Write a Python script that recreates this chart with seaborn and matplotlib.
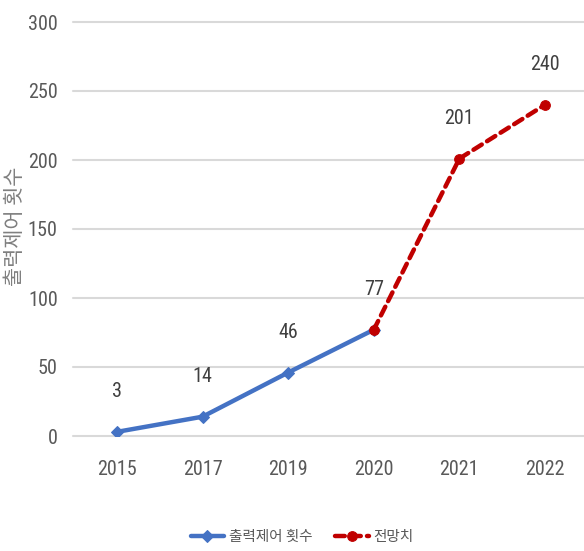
import matplotlib
matplotlib.use("Agg")
import matplotlib.pyplot as plt
import matplotlib.font_manager as fm
import seaborn as sns
import pandas as pd

years = ["2015", "2017", "2019", "2020", "2021", "2022"]
actual_years = ["2015", "2017", "2019", "2020"]
actual_values = [3, 14, 46, 77]
forecast_years = ["2020", "2021", "2022"]
forecast_values = [77, 201, 240]
y_ticks = [0, 50, 100, 150, 200, 250, 300]
series_names = ["출력제어 횟수", "전망치"]
y_label = "출력제어 횟수"

sns.set_theme(style="white")

# pick a narrow face for the numbers when one is installed
fonts = fm.fontManager.ttflist
num_font, num_stretch, num_size = "Liberation Sans", "normal", 13
for fam in ["Roboto Condensed", "Liberation Sans Narrow", "Open Sans Condensed"]:
    if any(f.name == fam for f in fonts):
        num_font, num_stretch, num_size = fam, "normal", 14.5
        break
else:
    if any(f.name == "DejaVu Sans" and str(f.stretch) == "condensed" for f in fonts):
        num_font, num_stretch, num_size = "DejaVu Sans", "condensed", 14
plt.rcParams["font.family"] = [num_font, "Noto Sans CJK KR", "DejaVu Sans"]
plt.rcParams["font.stretch"] = num_stretch
kr = ["Noto Sans CJK KR", "DejaVu Sans"]

blue = "#4472C4"
red = "#C00000"
text_col = "#595959"

fig = plt.figure(figsize=(5.84, 5.51), dpi=100)
ax = fig.add_axes([73 / 584, 115 / 551, 511 / 584, 414 / 551])

df_a = pd.DataFrame({"x": [years.index(y) for y in actual_years], "v": actual_values})
df_f = pd.DataFrame({"x": [years.index(y) for y in forecast_years], "v": forecast_values})

sns.lineplot(data=df_a, x="x", y="v", ax=ax, color=blue, lw=3.2, marker="D",
             markersize=6, markeredgecolor=blue, label=series_names[0],
             solid_capstyle="round", zorder=3)
sns.lineplot(data=df_f, x="x", y="v", ax=ax, color=red, lw=3.2, marker="o",
             markersize=7, markeredgecolor=red, label=series_names[1],
             dashes=False, zorder=4)
ax.lines[-1].set_dashes((2.2, 1.4))
ax.lines[-1].set_dash_capstyle("round")

# value labels above each point
labels = dict(zip(actual_years, actual_values))
labels.update(zip(forecast_years, forecast_values))
for y, v in labels.items():
    ax.annotate(str(v), (years.index(y), v), xytext=(0, 29), textcoords="offset points",
                ha="center", va="center", fontsize=num_size, color="#404040")

ax.set_xlim(-0.514, 5.456)
ax.set_ylim(0, 300)
ax.set_yticks(y_ticks)
ax.set_xticks(range(len(years)))
ax.set_xticklabels(years)
ax.tick_params(axis="both", labelsize=num_size, colors=text_col, length=0)
ax.tick_params(axis="x", pad=17)
ax.tick_params(axis="y", pad=11)
ax.yaxis.grid(True, color="#D9D9D9", lw=1.5)
ax.xaxis.grid(False)
for s in ax.spines.values():
    s.set_visible(False)
for gl in ax.get_ygridlines():
    gl.set_clip_on(False)

ax.set_xlabel("")
ax.set_ylabel(y_label, fontsize=15, color="#7F7F7F", family=kr)
ax.yaxis.set_label_coords(-0.092, 0.507)

leg = ax.legend(loc="center", bbox_to_anchor=((302 - 73) / 511, -(537 - 436) / 414),
                ncol=2, frameon=False, fontsize=10.5, handlelength=2.3,
                columnspacing=1.6, handletextpad=0.3, labelcolor=text_col)
for t in leg.get_texts():
    t.set_family(kr)

fig.savefig("out.png", dpi=100)
